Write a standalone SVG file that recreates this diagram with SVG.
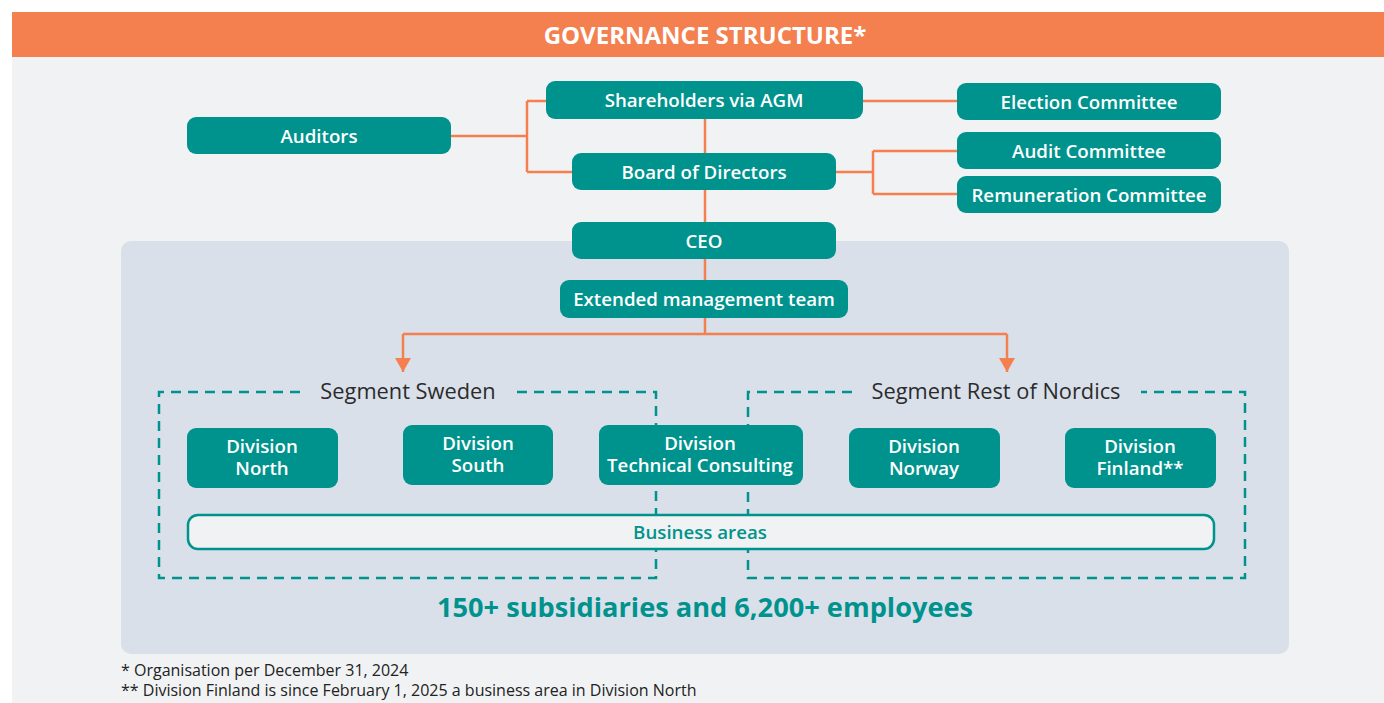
<svg xmlns="http://www.w3.org/2000/svg" width="1384" height="703" viewBox="0 0 1384 703">
<defs>
<style>
.node rect{fill:#00938D;}
.lbl{font-family:"Open Sans","Liberation Sans",sans-serif;font-weight:600;font-size:18.7px;fill:#fff;text-anchor:middle;dominant-baseline:central;}
.lbl2{font-family:"Open Sans","Liberation Sans",sans-serif;font-weight:600;font-size:18.7px;fill:#fff;text-anchor:middle;}
.conn{stroke:#F4804F;stroke-width:2.5;fill:none;}
.dash{stroke:#00938D;stroke-width:2.5;fill:none;stroke-dasharray:10 7;}
.seg{font-family:"Open Sans","Liberation Sans",sans-serif;font-size:21.8px;fill:#2B2B2B;text-anchor:middle;dominant-baseline:central;}
.foot{font-family:"Open Sans","Liberation Sans",sans-serif;font-size:16px;fill:#222;}
</style>
<marker id="arrow" viewBox="0 0 16 14" refX="8" refY="14" markerWidth="16" markerHeight="14" markerUnits="userSpaceOnUse" orient="0">
<path d="M0,0 L16,0 L8,14 z" fill="#F4804F"/>
</marker>
</defs>
<rect x="0" y="0" width="1384" height="703" fill="#fff"/>
<rect x="12" y="57" width="1372" height="646" fill="#F1F2F4"/>
<g id="header">
<rect x="12" y="12" width="1372" height="45" fill="#F4804F"/>
<text x="705" y="34" font-family="'Open Sans','Liberation Sans',sans-serif" font-weight="700" font-size="24" fill="#fff" text-anchor="middle" dominant-baseline="central">GOVERNANCE STRUCTURE*</text>
</g>
<g id="panel">
<rect x="121" y="241" width="1168" height="413" rx="10" fill="#D9E0EA"/>
</g>
<g id="connectors">
<path class="conn" d="M451,136 H527 M527,101 V172 M527,101 H546 M527,172 H572"/>
<path class="conn" d="M705,119 V280 M705,318 V334"/>
<path class="conn" d="M863,101 H957"/>
<path class="conn" d="M836,172 H873 M873,151 V194 M873,151 H957 M873,194 H957"/>
<path class="conn" d="M403,334 H1007"/>
<path class="conn" d="M403,334 V372" marker-end="url(#arrow)"/>
<path class="conn" d="M1007,334 V372" marker-end="url(#arrow)"/>
</g>
<g id="segment-sweden">
<path class="dash" d="M300,392 H159 V578 H656 V392 H514"/>
<text class="seg" x="408" y="390">Segment Sweden</text>
</g>
<g id="segment-rest">
<path class="dash" d="M852,392 H748 V578 H1245 V392 H1141"/>
<text class="seg" x="996" y="390">Segment Rest of Nordics</text>
</g>
<g id="auditors" class="node"><rect x="187" y="117" width="264" height="37" rx="9"/><text class="lbl" x="319" y="135">Auditors</text></g>
<g id="shareholders" class="node"><rect x="546" y="81" width="317" height="38" rx="9"/><text class="lbl" x="704" y="99">Shareholders via AGM</text></g>
<g id="board" class="node"><rect x="572" y="153" width="264" height="37" rx="9"/><text class="lbl" x="704" y="171">Board of Directors</text></g>
<g id="ceo" class="node"><rect x="572" y="222" width="264" height="37" rx="9"/><text class="lbl" x="704" y="240">CEO</text></g>
<g id="emt" class="node"><rect x="560" y="280" width="288" height="38" rx="9"/><text class="lbl" x="704" y="298">Extended management team</text></g>
<g id="election" class="node"><rect x="957" y="83" width="264" height="37" rx="9"/><text class="lbl" x="1089" y="101">Election Committee</text></g>
<g id="audit" class="node"><rect x="957" y="132" width="264" height="37" rx="9"/><text class="lbl" x="1089" y="150">Audit Committee</text></g>
<g id="remuneration" class="node"><rect x="957" y="176" width="264" height="37" rx="9"/><text class="lbl" x="1089" y="194">Remuneration Committee</text></g>
<g id="div-north" class="node"><rect x="187" y="428" width="151" height="60" rx="9"/><text class="lbl2" x="262" y="453"><tspan x="262">Division</tspan><tspan x="262" dy="22">North</tspan></text></g>
<g id="div-south" class="node"><rect x="403" y="425" width="150" height="60" rx="9"/><text class="lbl2" x="478" y="450"><tspan x="478">Division</tspan><tspan x="478" dy="22">South</tspan></text></g>
<g id="div-tech" class="node"><rect x="599" y="425" width="204" height="60" rx="9"/><text class="lbl2" x="700" y="450"><tspan x="700">Division</tspan><tspan x="700" dy="22">Technical Consulting</tspan></text></g>
<g id="div-norway" class="node"><rect x="849" y="428" width="151" height="60" rx="9"/><text class="lbl2" x="924" y="453"><tspan x="924">Division</tspan><tspan x="924" dy="22">Norway</tspan></text></g>
<g id="div-finland" class="node"><rect x="1065" y="428" width="151" height="60" rx="9"/><text class="lbl2" x="1140" y="453"><tspan x="1140">Division</tspan><tspan x="1140" dy="22">Finland**</tspan></text></g>
<g id="business-areas"><rect x="188" y="515" width="1026" height="34" rx="10" fill="#F1F2F4" stroke="#00938D" stroke-width="2.5"/><text class="lbl" x="700" y="531" style="fill:#00938D">Business areas</text></g>
<g id="summary"><text x="705" y="606" font-family="'Open Sans','Liberation Sans',sans-serif" font-weight="700" font-size="27.2" fill="#00938D" text-anchor="middle" dominant-baseline="central">150+ subsidiaries and 6,200+ employees</text></g>
<g id="footnotes">
<text class="foot" x="121" y="676">* Organisation per December 31, 2024</text>
<text class="foot" x="121" y="696">** Division Finland is since February 1, 2025 a business area in Division North</text>
</g>
</svg>
